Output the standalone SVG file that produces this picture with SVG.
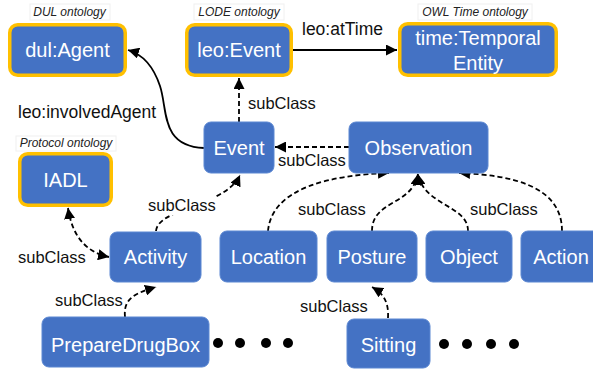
<svg xmlns="http://www.w3.org/2000/svg" width="593" height="369" viewBox="0 0 593 369">
<style>
.box{fill:#4472C4;stroke:#5b87d2;stroke-width:1}
.ont{fill:#4472C4;stroke:#FFC000;stroke-width:3.5}
.nt{font-family:"Liberation Sans",Arial,sans-serif;font-size:20px;fill:#ffffff;text-anchor:middle}
.lbl{font-family:"Liberation Sans",Arial,sans-serif;font-size:16.5px;fill:#111111}
.big{font-size:17.5px}
.ital{font-family:"Liberation Sans",Arial,sans-serif;font-size:12px;font-style:italic;fill:#222222;text-anchor:middle}
.tag{fill:#ffffff;stroke:#f0f0f0;stroke-width:1}
.solid{fill:none;stroke:#000;stroke-width:1.8}
.dash{fill:none;stroke:#000;stroke-width:1.8;stroke-dasharray:5 3}
</style>
<defs>
<marker id="ah" viewBox="0 0 10 10" refX="10" refY="5" markerWidth="11" markerHeight="11" markerUnits="userSpaceOnUse" orient="auto-start-reverse">
<path d="M0,0 L10,5 L0,10 z" fill="#000"/>
</marker>
</defs>
<g id="connectors">
<path class="solid" d="M293,50 L397,50" marker-end="url(#ah)"/>
<text class="lbl big" x="302" y="35">leo:atTime</text>
<path class="dash" d="M239,122 L239,78" marker-end="url(#ah)"/>
<text class="lbl" x="248" y="109">subClass</text>
<path class="solid" d="M204,148 C160,146 168,110 160,86 C154,68 145,55 128,50" marker-end="url(#ah)"/>
<text class="lbl big" x="18" y="118">leo:involvedAgent</text>
<path class="dash" d="M349,147 L275,147" marker-end="url(#ah)"/>
<text class="lbl" x="278" y="166">subClass</text>
<path class="dash" d="M156,231 C158,208 226,206 240,175" marker-end="url(#ah)"/>
<rect x="146" y="196" width="69" height="19" fill="#ffffff"/>
<text class="lbl" x="148" y="211">subClass</text>
<path class="dash" d="M68,208 C72,235 85,252 109,257" marker-start="url(#ah)" marker-end="url(#ah)"/>
<text class="lbl" x="18" y="263">subClass</text>
<path class="dash" d="M125,317 C123,298 136,293 156,287" marker-end="url(#ah)"/>
<text class="lbl" x="55" y="306">subClass</text>
<path class="dash" d="M388,318 C389,300 382,293 372,287" marker-end="url(#ah)"/>
<text class="lbl" x="300" y="312">subClass</text>
<path class="dash" d="M268,231 C272,188 330,175 389,173" marker-end="url(#ah)"/>
<text class="lbl" x="298" y="215">subClass</text>
<path class="dash" d="M372,231 C372,200 412,206 418,174" marker-end="url(#ah)"/>
<path class="dash" d="M468,231 C468,205 424,206 418,174" marker-end="url(#ah)"/>
<path class="dash" d="M562,231 C562,186 512,175 459,173" marker-end="url(#ah)"/>
<text class="lbl" x="470" y="215">subClass</text>
</g>
<g id="dul-agent">
<rect class="tag" x="30" y="4" width="80" height="16"/>
<text class="ital" x="69.5" y="16">DUL ontology</text>
<rect class="ont" x="9.75" y="24.75" width="115.5" height="50.5" rx="8"/>
<text class="nt" x="67.5" y="57">dul:Agent</text>
</g>
<g id="leo-event">
<rect class="tag" x="194" y="4" width="90" height="16"/>
<text class="ital" x="239" y="16">LODE ontology</text>
<rect class="ont" x="186.75" y="24.75" width="104.5" height="50.5" rx="8"/>
<text class="nt" x="239" y="57">leo:Event</text>
</g>
<g id="time-entity">
<rect class="tag" x="418" y="4" width="114" height="16"/>
<text class="ital" x="475" y="16">OWL Time ontology</text>
<rect class="ont" x="399.75" y="23.75" width="156.5" height="51.5" rx="8"/>
<text class="nt" x="478" y="45">time:Temporal</text>
<text class="nt" x="478" y="70">Entity</text>
</g>
<g id="iadl">
<rect class="tag" x="16" y="136" width="100" height="15"/>
<text class="ital" x="66" y="147">Protocol ontology</text>
<rect class="ont" x="19.75" y="153.75" width="91.5" height="51.5" rx="8"/>
<text class="nt" x="65.5" y="187">IADL</text>
</g>
<g id="event">
<rect class="box" x="204" y="122" width="70" height="51" rx="7"/>
<text class="nt" x="239" y="155">Event</text>
</g>
<g id="observation">
<rect class="box" x="349" y="122" width="139" height="51" rx="7"/>
<text class="nt" x="418.5" y="155">Observation</text>
</g>
<g id="activity">
<rect class="box" x="110" y="232" width="91" height="50" rx="7"/>
<text class="nt" x="155.5" y="264">Activity</text>
</g>
<g id="location">
<rect class="box" x="220" y="231" width="97" height="51" rx="7"/>
<text class="nt" x="268.5" y="264">Location</text>
</g>
<g id="posture">
<rect class="box" x="327" y="231" width="90" height="51" rx="7"/>
<text class="nt" x="372" y="264">Posture</text>
</g>
<g id="object">
<rect class="box" x="426" y="231" width="86" height="51" rx="7"/>
<text class="nt" x="469" y="264">Object</text>
</g>
<g id="action">
<rect class="box" x="521" y="231" width="80" height="51" rx="7"/>
<text class="nt" x="561" y="264">Action</text>
</g>
<g id="preparedrugbox">
<rect class="box" x="42" y="317" width="167" height="50" rx="7"/>
<text class="nt" x="125.5" y="352">PrepareDrugBox</text>
</g>
<g id="sitting">
<rect class="box" x="347" y="319" width="83" height="49" rx="7"/>
<text class="nt" x="388.5" y="352">Sitting</text>
</g>
<g id="dots">
<circle cx="218" cy="343" r="5"/>
<circle cx="240" cy="343" r="5"/>
<circle cx="266" cy="343" r="5"/>
<circle cx="288" cy="343" r="5"/>
<circle cx="444" cy="344" r="5"/>
<circle cx="467" cy="344" r="5"/>
<circle cx="491" cy="344" r="5"/>
<circle cx="514" cy="344" r="5"/>
</g>
</svg>
